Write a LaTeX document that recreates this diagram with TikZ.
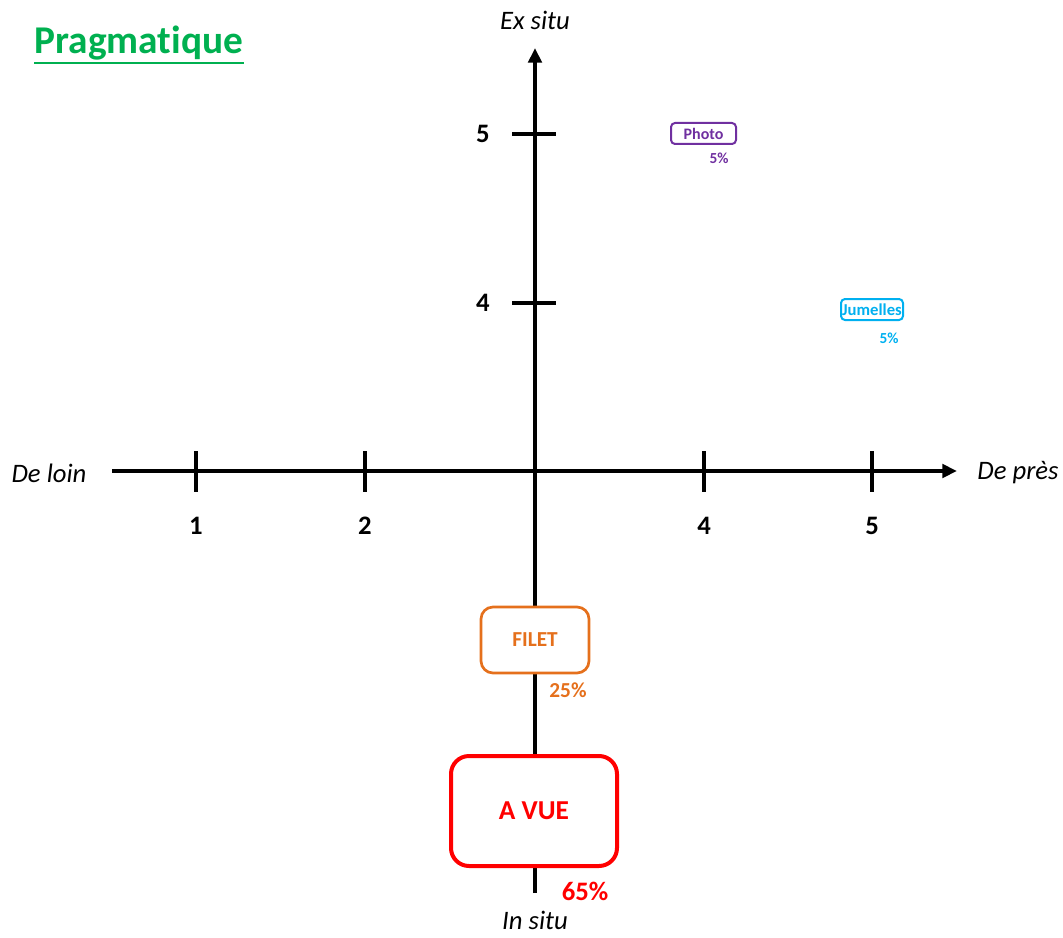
\documentclass[tikz,border=0pt]{standalone}
\usepackage{fontspec}
\setmainfont[Ligatures=NoCommon]{Carlito}
\usetikzlibrary{arrows.meta, positioning}
\definecolor{pragreen}{HTML}{00B050}
\definecolor{photopurple}{HTML}{7030A0}
\definecolor{jumblue}{HTML}{00B0F0}
\definecolor{filetorange}{HTML}{E5701C}
\definecolor{vuered}{HTML}{FF0000}

\begin{document}
\begin{tikzpicture}[x=0.75pt, y=-0.75pt,
    axis/.style={line width=3pt, -{Triangle[length=11pt, width=10pt]}},
    graduation/.style={line width=3pt},
    axislabel/.style={inner sep=0pt, font=\fontsize{20}{24}\selectfont\itshape},
    number/.style={inner sep=0pt, font=\fontsize{20}{24}\selectfont\bfseries},
    method/.style={draw, fill=white, align=center, inner sep=0pt, font=\bfseries},
    share/.style={inner sep=0pt, font=\bfseries},
  ]
    \useasboundingbox (0,0) rectangle (1063,938);

    % axes
    \coordinate (xl) at (112,471);
    \coordinate (xr) at (957,471);
    \coordinate (yb) at (535,893);
    \coordinate (yt) at (535,48);
    \draw[axis] (xl) -- (xr);
    \draw[axis] (yb) -- (yt);

    \foreach \x/\n in {196/1, 365/2, 704/4, 872/5} {
      \draw[graduation] (\x,451) -- (\x,492);
      \node[number] (n\n) at (\x,526) {\n};
    }
    \foreach \y/\n in {134/5, 303/4} {
      \draw[graduation] (512,\y) -- (556,\y);
      \node[number] (m\n) at (483,\y) {\n};
    }

    \node[axislabel] (exsitu) at (535,20)  {Ex situ};
    \node[axislabel] (insitu) at (535,920) {In situ};
    \node[axislabel] (loin)   at (49,473)  {De loin};
    \node[axislabel] (pres)   at (1018,473) {De près};

    % title
    \node[inner sep=0pt, text=pragreen, font=\fontsize{29.5}{34}\selectfont\bfseries]
      (title) at (139,43) {Pragmatique};
    \draw[pragreen, line width=1.6pt]
      ([yshift=-2pt]title.south west) -- ([yshift=-2pt]title.south east);

    % methods
    \node[method, draw=photopurple, text=photopurple, line width=1.5pt, rounded corners=3pt,
          minimum width=48.75pt, minimum height=15.75pt,
          font=\fontsize{12}{14}\selectfont\bfseries] (photo) at (703.5,133.5) {Photo};
    \node[share, text=photopurple, font=\fontsize{11.5}{13}\selectfont\bfseries]
      (photop) at (719,158) {5\%};

    \node[method, draw=jumblue, text=jumblue, line width=1.5pt, rounded corners=3pt,
          minimum width=46.5pt, minimum height=15.75pt,
          font=\fontsize{12.5}{14}\selectfont\bfseries] (jumelles) at (872,309.5) {Jumelles};
    \node[share, text=jumblue, font=\fontsize{11.5}{13}\selectfont\bfseries]
      (jumellesp) at (889,338) {5\%};

    \node[method, draw=filetorange, text=filetorange, line width=2pt, rounded corners=9pt,
          minimum width=81pt, minimum height=49.5pt,
          font=\fontsize{16}{19}\selectfont\bfseries] (filet) at (535,640) {FILET};
    \node[share, text=filetorange, font=\fontsize{16}{19}\selectfont\bfseries]
      (filetp) at (568,690) {25\%};

    \node[method, draw=vuered, text=vuered, line width=3pt, rounded corners=13.5pt,
          minimum width=124.5pt, minimum height=82.5pt,
          font=\fontsize{20.5}{24}\selectfont\bfseries] (avue) at (534,811) {A VUE};
    \node[share, text=vuered, font=\fontsize{20}{24}\selectfont\bfseries]
      (avuep) at (585,891) {65\%};
\end{tikzpicture}
\end{document}
